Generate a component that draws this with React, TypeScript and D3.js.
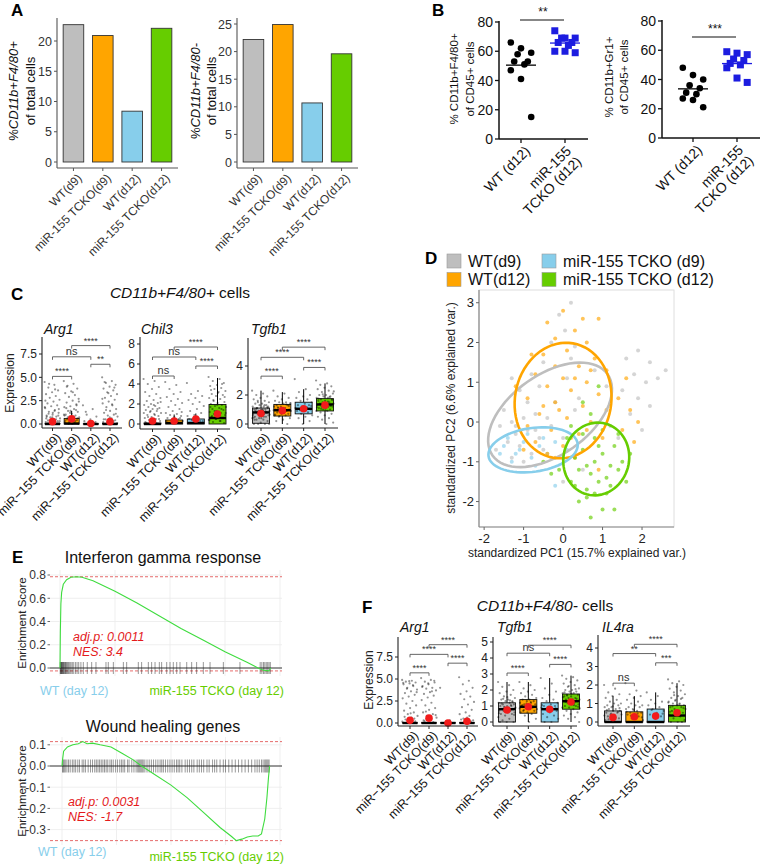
import React from "react";
import * as d3 from "d3";

const FONT = "'Liberation Sans', Arial, Helvetica, sans-serif";

// ---------- shared categories ----------
const groupLabels = ["WT(d9)", "miR-155 TCKO(d9)", "WT(d12)", "miR-155 TCKO(d12)"];
const groupLabelsBox = ["WT(d9)", "miR\u2212155 TCKO(d9)", "WT(d12)", "miR\u2212155 TCKO(d12)"];
const groupColors = ["#bebebe", "#ffa500", "#87ceeb", "#66cd00"];

// ---------- A ----------
const aF480PosValues = [22.7, 20.9, 8.4, 22.1];
const aF480NegValues = [22.2, 24.9, 10.7, 19.6];
const aF480PosTicks = [0, 5, 10, 15, 20];
const aF480NegTicks = [0, 5, 10, 15, 20, 25];

// ---------- B ----------
const bGroupLabels = [["WT (d12)"], ["miR-155", "TCKO (d12)"]];
const bF480WT = [66, 62, 59, 58, 53, 53, 51, 47, 41, 15];
const bF480KO = [74, 69, 69, 69, 66, 66, 64, 60, 60, 59];
const bGr1WT = [48, 43, 40, 36, 34, 31, 30, 27, 26, 21];
const bGr1KO = [59, 58, 57, 54, 53, 51, 50, 48, 41, 38];
const bTicks = [0, 20, 40, 60, 80];

// ---------- C (CD11b+F4/80+) ----------
// stats: [q1, median, q3, whiskerLow, whiskerHigh]
const cArg1Stats = [[0, 0, 0.05, 0, 0.1], [0, 0.05, 0.6, 0, 1.4], [0, 0, 0.03, 0, 0.05], [0, 0, 0.08, 0, 0.2]];
const cArg1Means = [0.25, 0.55, 0.05, 0.25];
const cArg1Points = [
  [4.5, 4.2, 3.9, 3.6, 3.4, 3.2, 3.0, 2.8, 2.6, 2.4, 2.2, 2.0, 1.9, 1.7, 1.5, 1.3, 1.2, 1.0, 0.9, 0.8, 0.7, 0.6, 0.5, 0.4, 0.3, 0.3, 0.2, 0.2, 0.1, 0.1, 0, 0, 0, 0, 1.8, 1.4, 1.1, 0.9, 0.7, 0.6, 0.5, 0.4, 0.3, 0.2, 0.15, 0.1, 0.05, 2.5, 3.7, 4.3, 1.6, 1.2, 0.8],
  [4.6, 4.3, 4.1, 3.8, 3.5, 3.3, 3.1, 2.9, 2.7, 2.5, 2.3, 2.1, 1.9, 1.8, 1.6, 1.4, 1.3, 1.1, 1.0, 0.9, 0.8, 0.7, 0.6, 0.5, 0.4, 0.3, 0.2, 0.1, 0, 0, 0, 1.7, 1.5, 1.2, 1.0, 0.8, 0.7, 0.6, 0.5, 0.4, 0.3, 0.2, 2.4, 3.4, 4.0, 2.0, 1.4, 0.9],
  [2.0, 1.6, 1.0, 0.8, 0.5, 0.3, 0.1, 0, 0, 0, 1.3, 0.2],
  [5.0, 4.6, 4.4, 4.2, 4.0, 3.8, 3.6, 3.4, 3.2, 3.0, 2.8, 2.6, 2.4, 2.2, 2.0, 1.8, 1.6, 1.4, 1.2, 1.0, 0.9, 0.8, 0.6, 0.5, 0.4, 0.3, 0.2, 0.1, 0, 0, 0, 4.5, 3.9, 3.3, 2.7, 2.1, 1.5, 1.1, 0.7, 0.5, 0.3, 0.2, 0.1],
];
const cArg1Sig = [[0, 1, 5.1, "****"], [0, 2, 7.2, "ns"], [1, 3, 8.4, "****"], [2, 3, 6.4, "**"]];
const cArg1Ticks = [0, 2.5, 5, 7.5];

const cChil3Stats = [[0, 0, 0.1, 0, 0.25], [0, 0.1, 0.4, 0, 0.95], [0, 0.1, 0.5, 0, 1.05], [0, 0.6, 1.95, 0, 4.6]];
const cChil3Means = [0.3, 0.3, 0.5, 1.0];
const cChil3Points = [
  [4.5, 4.3, 4.0, 3.7, 3.5, 3.2, 3.0, 2.8, 2.6, 2.4, 2.3, 2.1, 2.0, 1.9, 1.8, 1.7, 1.6, 1.5, 1.4, 1.3, 1.2, 1.1, 1.0, 0.9, 0.8, 0.7, 0.6, 0.5, 0.4, 0.3, 0.2, 0.1, 1.5, 1.3, 1.1, 0.9, 0.7, 0.5, 0.3, 0.2, 0.1, 0.05, 2.2, 1.9],
  [4.2, 3.9, 3.5, 3.2, 3.0, 2.7, 2.5, 2.3, 2.1, 1.9, 1.7, 1.5, 1.3, 1.1, 1.0, 0.9, 0.8, 0.7, 0.6, 0.5, 0.4, 0.3, 0.2, 0.1, 0.6, 0.4, 0.3, 0.2, 0.1, 1.2],
  [4.1, 3.3, 3.0, 2.8, 2.6, 2.4, 2.2, 2.0, 1.8, 1.5, 1.3, 1.1, 0.9, 0.8, 0.6, 0.4, 0.3, 0.2, 0.5, 0.3],
  [4.7, 4.5, 4.3, 4.1, 3.9, 3.8, 3.6, 3.5, 3.3, 3.2, 3.0, 2.9, 2.8, 2.6, 2.5, 2.4, 2.2, 2.1, 2.0, 1.9, 1.8, 1.7, 1.6, 1.5, 1.4, 1.3, 1.2, 1.1, 1.0, 0.9, 0.8, 0.7, 0.6, 0.5, 0.4, 0.3, 0.2, 0.1, 1.9, 1.7, 1.5, 1.3, 1.1, 0.9, 0.8, 0.6, 0.5, 0.4, 0.3, 2.3, 2.7, 3.1, 3.4, 4.0],
];
const cChil3Sig = [[0, 1, 4.8, "ns"], [0, 2, 6.7, "ns"], [1, 3, 7.7, "****"], [2, 3, 5.8, "****"]];
const cChil3Ticks = [0, 2, 4, 6, 8];

const cTgfb1Stats = [[0.05, 0.8, 1.1, 0, 2.3], [0.55, 0.95, 1.35, 0, 2.2], [0.7, 1.05, 1.5, 0, 2.4], [0.9, 1.35, 1.75, 0, 2.8]];
const cTgfb1Means = [0.72, 0.92, 1.05, 1.3];
const cTgfb1Points = [
  [2.3, 2.1, 2.0, 1.9, 1.8, 1.7, 1.6, 1.5, 1.5, 1.4, 1.4, 1.3, 1.3, 1.2, 1.2, 1.1, 1.1, 1.0, 1.0, 1.0, 0.9, 0.9, 0.9, 0.8, 0.8, 0.8, 0.7, 0.7, 0.7, 0.6, 0.6, 0.5, 0.5, 0.4, 0.4, 0.3, 0.3, 0.2, 0.1, 0, 0, 0, 0, 1.0, 0.9, 0.8, 0.7, 0.6, 0.5, 1.1, 1.2, 0.4, 0.3, 0.85, 0.75, 0.65, 0.95, 1.05, 1.15, 0.55, 0.45, 1.3, 1.6],
  [2.3, 2.1, 1.9, 1.8, 1.7, 1.6, 1.5, 1.5, 1.4, 1.4, 1.3, 1.3, 1.2, 1.2, 1.1, 1.1, 1.0, 1.0, 1.0, 0.9, 0.9, 0.9, 0.8, 0.8, 0.7, 0.7, 0.6, 0.6, 0.5, 0.4, 0.3, 0.2, 0, 1.05, 0.95, 0.85, 1.15, 1.25, 0.75, 0.65, 1.35, 0.55, 1.45],
  [3.1, 2.4, 2.2, 2.0, 1.9, 1.8, 1.7, 1.6, 1.5, 1.4, 1.3, 1.3, 1.2, 1.1, 1.1, 1.0, 1.0, 0.9, 0.9, 0.8, 0.7, 0.6, 0.5, 0.4, 0.2, 0, 1.05, 1.15, 0.95, 1.25],
  [3.0, 2.8, 2.7, 2.6, 2.5, 2.4, 2.3, 2.2, 2.1, 2.0, 2.0, 1.9, 1.9, 1.8, 1.8, 1.7, 1.7, 1.6, 1.6, 1.5, 1.5, 1.4, 1.4, 1.4, 1.3, 1.3, 1.3, 1.2, 1.2, 1.2, 1.1, 1.1, 1.0, 1.0, 0.9, 0.9, 0.8, 0.7, 0.6, 0.5, 0.4, 0.3, 0.1, 0, 1.35, 1.25, 1.45, 1.15, 1.55, 1.05, 1.65, 0.95, 1.75, 1.85, 2.05, 2.25],
];
const cTgfb1Sig = [[0, 1, 3.3, "****"], [0, 2, 4.6, "****"], [1, 3, 5.3, "****"], [2, 3, 3.9, "****"]];
const cTgfb1Ticks = [0, 2, 4];

// ---------- D (PCA) ----------
const dWTd9 = [[0.2, 3.0], [-0.1, 2.7], [0.05, 2.3], [-0.3, 2.0], [0.3, 1.9], [0.2, 1.6], [-0.5, 1.5], [-0.8, 1.2], [-1.3, 1.1], [-1.1, 0.8], [-0.6, 0.9], [-0.9, 0.5], [-1.5, 0.3], [-1.3, 0.0], [-1.6, -0.1], [-1.2, -0.3], [-0.9, -0.2], [-1.4, -0.5], [-1.1, -0.6], [-0.8, -0.8], [-1.3, -0.9], [-1.0, -1.0], [-0.5, -0.7], [-0.6, -0.4], [-0.3, -0.1], [-0.7, 0.2], [-0.2, 0.5], [0.1, 1.1], [0.4, 0.6], [0.8, 1.3], [1.6, 1.6], [1.9, 1.8], [2.2, 1.5], [1.8, 1.2], [2.1, 1.0], [2.4, 1.1], [2.6, 1.3], [1.5, 0.8], [1.9, 0.6], [2.2, 0.4], [1.7, 0.2], [2.0, -0.2], [1.4, -0.4], [1.2, -0.1], [0.5, -1.2], [0.0, -1.5], [-0.3, -0.9], [-1.7, -0.7], [-1.0, 0.1], [-0.4, 0.1], [0.0, -0.4], [-0.7, -0.2], [-1.2, -0.1], [0.3, 0.3], [1.1, 0.9]];
const dWTd12 = [[0.0, 2.8], [-0.4, 2.5], [0.5, 2.6], [0.9, 2.6], [0.3, 2.3], [-0.2, 2.1], [0.6, 2.0], [0.1, 1.8], [-0.5, 1.7], [0.8, 1.6], [-0.2, 1.4], [0.4, 1.4], [1.1, 1.3], [-0.7, 1.2], [0.0, 1.1], [0.6, 1.0], [-0.4, 0.9], [0.2, 0.8], [0.9, 0.7], [-0.9, 0.6], [-0.2, 0.5], [0.5, 0.4], [1.1, 0.3], [-0.6, 0.2], [0.1, 0.1], [0.7, 0.0], [-0.9, -0.1], [-0.3, -0.2], [0.4, -0.3], [1.0, -0.4], [-0.7, -0.5], [0.0, -0.6], [-0.4, -0.8], [0.3, -0.9], [-1.0, -0.7], [0.6, -0.2], [-0.1, 0.3], [0.3, 1.1], [-0.5, 0.4], [1.5, -0.2], [1.7, 0.3], [1.9, 0.0], [1.4, 0.6], [1.8, -0.5], [-1.2, 0.9], [-0.8, 1.7], [0.7, 1.3], [0.2, -0.4], [-0.2, -0.9], [0.9, -1.2], [1.6, 1.1]];
const dKOd9 = [[-1.5, -0.6], [-1.2, -0.8], [-1.0, -0.5], [-0.8, -0.9], [-0.6, -0.6], [-0.4, -0.8], [-1.3, -1.0], [-0.9, -0.3], [-0.2, -0.5], [-1.6, -0.8], [-0.7, -1.1], [-1.1, -0.7], [0.0, -0.9], [-0.5, -0.4], [-0.2, -1.6], [0.1, -0.7], [-1.4, -0.4]];
const dKOd12 = [[0.8, -1.0], [0.5, -0.7], [1.0, -0.8], [0.7, -1.3], [1.2, -1.1], [0.4, -1.2], [0.9, -1.5], [0.6, -1.7], [1.1, -1.4], [0.3, -0.9], [1.3, -0.6], [0.2, -1.5], [1.4, -1.2], [0.8, -0.4], [0.5, -0.3], [1.0, -0.2], [0.6, -1.9], [0.4, -2.0], [1.0, -2.2], [1.3, -2.2], [0.7, -2.4], [1.5, -1.0], [1.7, -0.8], [0.1, -0.4], [-0.1, -1.2], [0.9, -0.6], [1.1, -1.8], [0.3, -1.6], [0.7, 0.2], [0.5, 0.5], [0.9, 0.9], [1.4, -0.3], [0.2, -0.1], [0.6, -1.1], [1.2, -1.6], [-0.3, -1.3], [-0.5, -1.0], [0.8, -1.8], [1.6, -1.5]];
// ellipses: [cx, cy, semi-major, semi-minor, angle deg]
const dEllipses = [[-0.33, 0.18, 1.78, 1.01, 35], [0.0, 0.54, 1.46, 1.22, 80], [-0.76, -0.7, 1.14, 0.55, 8], [0.84, -0.93, 0.92, 0.83, 75]];
const dLegend = ["WT(d9)", "miR-155 TCKO (d9)", "WT(d12)", "miR-155 TCKO (d12)"];
const dXTicks = [-2, -1, 0, 1, 2];
const dYTicks = [-2, -1, 0, 1, 2, 3];

// ---------- E (GSEA) ----------
const eIfnCurve = [[0, 0], [3, 0.3], [8, 0.55], [15, 0.65], [30, 0.72], [60, 0.76], [100, 0.78], [150, 0.785], [200, 0.78], [300, 0.75], [500, 0.66], [700, 0.56], [900, 0.45], [1100, 0.34], [1300, 0.24], [1500, 0.14], [1700, 0.05], [1800, 0.0], [1850, -0.02], [1900, -0.025], [1915, 0]];
const eIfnHits = [2, 6, 10, 14, 18, 22, 27, 32, 38, 44, 50, 57, 64, 72, 80, 90, 100, 112, 125, 140, 155, 170, 190, 212, 248, 288, 327, 418, 439, 485, 576, 606, 712, 742, 803, 833, 864, 903, 924, 970, 1000, 1030, 1061, 1091, 1152, 1197, 1242, 1303, 1364, 1485, 1636, 1820, 1835, 1850, 1862, 1875, 1888, 1900, 1912];
const eIfnTicks = [0, 0.2, 0.4, 0.6, 0.8];
const eWoundCurve = [[0, 0], [5, 0.03], [15, 0.07], [50, 0.09], [100, 0.1], [150, 0.105], [190, 0.115], [230, 0.105], [280, 0.108], [350, 0.1], [450, 0.09], [550, 0.06], [650, 0.03], [730, 0.0], [850, -0.04], [1000, -0.09], [1150, -0.15], [1300, -0.22], [1450, -0.29], [1550, -0.33], [1600, -0.352], [1650, -0.345], [1700, -0.335], [1750, -0.33], [1800, -0.33], [1830, -0.32], [1860, -0.25], [1880, -0.15], [1895, -0.05], [1905, 0]];
const eWoundHits = [5, 12, 20, 30, 45, 60, 75, 95, 110, 125, 145, 160, 185, 200, 215, 240, 262, 280, 300, 315, 330, 345, 360, 375, 390, 405, 420, 440, 455, 470, 490, 510, 530, 545, 560, 575, 600, 615, 640, 660, 680, 695, 705, 715, 725, 735, 745, 760, 780, 800, 820, 840, 860, 880, 900, 915, 930, 950, 970, 990, 1010, 1030, 1050, 1065, 1080, 1100, 1130, 1150, 1170, 1190, 1210, 1240, 1260, 1280, 1300, 1330, 1350, 1380, 1400, 1420, 1450, 1480, 1500, 1530, 1560, 1590, 1620, 1650, 1680, 1710, 1740, 1770, 1790, 1810, 1830, 1845, 1860, 1870, 1880, 1890, 1900];
const eWoundTicks = [-0.3, -0.2, -0.1, 0, 0.1];
const eRankGrid = [0, 500, 1000, 1500, 2000];

// ---------- F (CD11b+F4/80-) ----------
const fArg1Stats = [[0, 0, 0.03, 0, 0.05], [0, 0, 0.03, 0, 0.05], [0, 0, 0.03, 0, 0.05], [0, 0, 0.03, 0, 0.05]];
const fArg1Means = [0.3, 0.55, 0.0, 0.2];
const fArg1Points = [
  [4.9, 4.8, 4.7, 4.6, 4.5, 4.4, 4.2, 4.0, 3.8, 3.6, 3.4, 3.2, 3.0, 2.8, 2.5, 2.2, 2.0, 1.7, 1.4, 1.2, 1.0, 0.8, 0.6, 0.4, 0.2, 4.75, 4.55, 4.3, 3.9, 3.5, 1.1, 0.7, 0.5, 0.3, 0.15, 0.1],
  [5.1, 4.9, 4.7, 4.6, 4.4, 4.2, 4.0, 3.9, 3.7, 3.5, 3.3, 3.1, 2.9, 2.6, 2.3, 2.0, 1.7, 1.5, 1.2, 1.0, 0.8, 0.6, 0.4, 0.2, 4.8, 4.5, 4.1, 3.6, 1.3, 0.9, 0.5, 0.3, 0.1],
  [4.0, 0.3],
  [5.2, 4.8, 4.4, 4.0, 3.6, 3.3, 3.0, 2.7, 2.4, 2.1, 1.8, 1.5, 1.2, 1.0, 0.8, 0.5, 0.3, 0.6, 0.4, 0.2, 0.1],
];
const fArg1Sig = [[0, 1, 5.7, "****"], [0, 2, 7.8, "****"], [1, 3, 8.9, "****"], [2, 3, 6.8, "****"]];
const fArg1Ticks = [0, 2.5, 5, 7.5];

const fTgfb1Stats = [[0, 0.8, 1.2, 0, 2.5], [0.55, 0.95, 1.4, 0, 2.5], [0, 0.8, 1.2, 0, 2.75], [0.8, 1.3, 1.75, 0, 2.9]];
const fTgfb1Means = [0.75, 0.95, 0.8, 1.25];
const fTgfb1Points = [
  [2.5, 2.3, 2.2, 2.0, 1.9, 1.8, 1.7, 1.6, 1.5, 1.4, 1.4, 1.3, 1.3, 1.2, 1.2, 1.1, 1.1, 1.0, 1.0, 1.0, 0.9, 0.9, 0.9, 0.8, 0.8, 0.8, 0.7, 0.7, 0.7, 0.6, 0.6, 0.5, 0.5, 0.4, 0.3, 0.2, 0.1, 0, 0, 0, 1.05, 0.95, 0.85, 0.75, 1.15, 1.25, 0.65, 0.55, 1.35, 1.45, 0.45, 1.55],
  [2.5, 2.3, 2.1, 2.0, 1.9, 1.8, 1.7, 1.6, 1.5, 1.4, 1.4, 1.3, 1.3, 1.2, 1.2, 1.1, 1.1, 1.0, 1.0, 0.9, 0.9, 0.8, 0.8, 0.7, 0.7, 0.6, 0.6, 0.5, 0.4, 0.2, 0, 1.05, 0.95, 1.15, 0.85, 1.25, 0.75],
  [2.75, 2.4, 2.1, 1.9, 1.7, 1.5, 1.4, 1.3, 1.2, 1.1, 1.0, 1.0, 0.9, 0.9, 0.8, 0.8, 0.7, 0.6, 0.5, 0.4, 0.3, 0.2, 0, 0, 0.85, 0.95, 1.05],
  [2.9, 2.8, 2.7, 2.6, 2.5, 2.4, 2.3, 2.2, 2.1, 2.0, 2.0, 1.9, 1.9, 1.8, 1.8, 1.7, 1.7, 1.6, 1.6, 1.5, 1.5, 1.4, 1.4, 1.4, 1.3, 1.3, 1.3, 1.2, 1.2, 1.1, 1.1, 1.0, 1.0, 0.9, 0.9, 0.8, 0.7, 0.6, 0.5, 0.4, 0.3, 0.2, 0, 1.35, 1.25, 1.45, 1.15, 1.55, 1.05, 1.65, 0.95, 1.75, 1.85, 2.05, 2.25, 0.85],
];
const fTgfb1Sig = [[0, 1, 3.06, "****"], [0, 2, 4.3, "ns"], [1, 3, 4.8, "****"], [2, 3, 3.6, "****"]];
const fTgfb1Ticks = [0, 1, 2, 3, 4, 5];

const fIl4raStats = [[0, 0, 0.6, 0, 1.4], [0, 0, 0.55, 0, 1.4], [0, 0, 0.7, 0, 1.6], [0, 0.35, 0.9, 0, 2.1]];
const fIl4raMeans = [0.25, 0.28, 0.32, 0.5];
const fIl4raPoints = [
  [2.0, 1.8, 1.6, 1.5, 1.4, 1.3, 1.2, 1.1, 1.0, 1.0, 0.9, 0.9, 0.8, 0.8, 0.7, 0.7, 0.6, 0.6, 0.5, 0.5, 0.4, 0.4, 0.3, 0.3, 0.2, 0.2, 0.1, 0, 0, 0, 0, 0.65, 0.55, 0.45, 0.35, 0.25, 0.15, 0.75, 0.85],
  [2.1, 1.7, 1.5, 1.4, 1.3, 1.2, 1.1, 1.0, 0.9, 0.9, 0.8, 0.8, 0.7, 0.7, 0.6, 0.5, 0.5, 0.4, 0.4, 0.3, 0.2, 0.1, 0, 0, 0, 0.65, 0.55, 0.45, 0.35, 0.25],
  [1.6, 1.4, 1.2, 1.1, 1.0, 0.9, 0.8, 0.7, 0.6, 0.5, 0.4, 0.3, 0.2, 0, 0, 0.65, 0.45],
  [2.3, 2.2, 2.1, 2.0, 1.9, 1.8, 1.7, 1.6, 1.5, 1.4, 1.3, 1.3, 1.2, 1.1, 1.0, 1.0, 0.9, 0.9, 0.8, 0.8, 0.7, 0.7, 0.6, 0.6, 0.5, 0.5, 0.4, 0.3, 0.2, 0.1, 0, 0, 0, 1.15, 1.05, 0.95, 0.85, 0.75, 0.65, 0.55, 1.25, 1.45],
];
const fIl4raSig = [[0, 1, 2.1, "ns"], [0, 2, 3.7, "**"], [1, 3, 4.2, "****"], [2, 3, 3.2, "***"]];
const fIl4raTicks = [0, 1, 2, 3, 4];

// ================= helpers =================
const RotLabel = ({ x, y, lines, size, fill = "#222", lh = "1.15em" }) => (
  <text transform={`translate(${x},${y}) rotate(-45)`} textAnchor="end" fontSize={size} fill={fill}>
    {lines.map((l, i) => (
      <tspan key={i} x={0} dy={i === 0 ? "0.71em" : lh}>{l}</tspan>
    ))}
  </text>
);

const VText = ({ x, y, size, children, fill = "#111" }) => (
  <text transform={`translate(${x},${y}) rotate(-90)`} textAnchor="middle" fontSize={size} fill={fill}>
    {children}
  </text>
);

const PanelLetter = ({ x, y, l }) => (
  <text x={x} y={y} fontSize={17} fontWeight="bold" fill="#000">{l}</text>
);

function BarChart({ values, ticks, axisX, axisRight, topTickY, sign, t1x, t2x }) {
  const zeroY = 162, axisY = 168, axisTop = 18;
  const y = d3.scaleLinear().domain([0, ticks[ticks.length - 1]]).range([zeroY, topTickY]);
  const x = d3.scaleBand().domain(groupLabels).range([axisX, axisRight]).paddingInner(0.3).paddingOuter(0.21);
  return (
    <g>
      {values.map((v, i) => (
        <rect key={i} x={x(groupLabels[i])} y={y(v)} width={x.bandwidth()} height={y(0) - y(v)}
          fill={groupColors[i]} stroke="#333" strokeWidth={0.9} />
      ))}
      <line x1={axisX} x2={axisX} y1={axisTop} y2={axisY} stroke="#555" strokeWidth={1.1} />
      <line x1={axisX} x2={axisRight} y1={axisY} y2={axisY} stroke="#555" strokeWidth={1.1} />
      {ticks.map((t) => (
        <g key={t}>
          <line x1={axisX - 3} x2={axisX} y1={y(t)} y2={y(t)} stroke="#555" />
          <text x={axisX - 5} y={y(t)} dy="0.36em" textAnchor="end" fontSize={12.5} fill="#333">{t}</text>
        </g>
      ))}
      {groupLabels.map((g) => {
        const cx = x(g) + x.bandwidth() / 2;
        return (
          <g key={g}>
            <line x1={cx} x2={cx} y1={axisY} y2={axisY + 3} stroke="#555" />
            <RotLabel x={cx + 3} y={axisY + 5} lines={[g]} size={12} fill="#333" />
          </g>
        );
      })}
      <VText x={t1x} y={91} size={13}>
        <tspan>%</tspan><tspan fontStyle="italic">{`CD11b+F4/80${sign}`}</tspan>
      </VText>
      <VText x={t2x} y={91} size={13}>of total cells</VText>
    </g>
  );
}

function DotPlot({ wt, ko, axisX, axisRight, zeroY, topY, axisTop, gx, titles, t1x, t2x, titleY, sigY, sigLabel }) {
  const y = d3.scaleLinear().domain([0, 80]).range([zeroY, topY]);
  const jit = (i) => (((i * 3) % 7) - 3) * 3.4;
  const mWT = d3.mean(wt), mKO = d3.mean(ko);
  return (
    <g>
      <line x1={axisX} x2={axisX} y1={axisTop} y2={zeroY} stroke="#111" strokeWidth={1.5} />
      <line x1={axisX} x2={axisRight} y1={zeroY} y2={zeroY} stroke="#111" strokeWidth={1.5} />
      {bTicks.map((t) => (
        <g key={t}>
          <line x1={axisX - 4} x2={axisX} y1={y(t)} y2={y(t)} stroke="#111" strokeWidth={1.3} />
          <text x={axisX - 6} y={y(t)} dy="0.36em" textAnchor="end" fontSize={14} fill="#111">{t}</text>
        </g>
      ))}
      {gx.map((g, i) => (
        <g key={i}>
          <line x1={g} x2={g} y1={zeroY} y2={zeroY + 4} stroke="#111" strokeWidth={1.3} />
          <RotLabel x={g + (i === 0 ? 3 : 0)} y={zeroY + 6} lines={bGroupLabels[i]} size={14} fill="#111" lh="1.05em" />
        </g>
      ))}
      {wt.map((v, i) => <circle key={i} cx={gx[0] + jit(i)} cy={y(v)} r={3.3} fill="#000" />)}
      {ko.map((v, i) => <rect key={i} x={gx[1] + jit(i) - 3.5} y={y(v) - 3.5} width={7} height={7} fill="#1c1ce0" />)}
      <line x1={gx[0] - 15} x2={gx[0] + 15} y1={y(mWT)} y2={y(mWT)} stroke="#000" strokeWidth={1.3} />
      <line x1={gx[1] - 15} x2={gx[1] + 15} y1={y(mKO)} y2={y(mKO)} stroke="#1c1ce0" strokeWidth={1.3} />
      <line x1={gx[0] - 1} x2={gx[1] - 1} y1={sigY} y2={sigY} stroke="#111" strokeWidth={1.1} />
      <text x={(gx[0] + gx[1]) / 2} y={sigY - 4} textAnchor="middle" fontSize={12} fill="#111">{sigLabel}</text>
      <VText x={t1x} y={titleY} size={11.5}>{titles[0]}</VText>
      <VText x={t2x} y={titleY} size={11.5}>{titles[1]}</VText>
    </g>
  );
}

function BoxPanel({ stats, means, points, sig, ticks, fmt, axisX, axisRight, axisTop, axisY, zeroY, topTickY, firstX, lastX, boxW, title, titleX, titleY }) {
  const y = d3.scaleLinear().domain([0, ticks[ticks.length - 1]]).range([zeroY, topTickY]);
  const x = d3.scalePoint().domain(groupLabelsBox).range([firstX, lastX]);
  const tip = 3;
  return (
    <g>
      <text x={titleX} y={titleY} fontSize={14} fontStyle="italic" fill="#111">{title}</text>
      {stats.map((s, i) => {
        const cx = x(groupLabelsBox[i]);
        const [q1, med, q3, lo, hi] = s;
        return (
          <g key={"b" + i}>
            <line x1={cx} x2={cx} y1={y(q3)} y2={y(hi)} stroke="#000" strokeWidth={1} />
            <line x1={cx} x2={cx} y1={y(q1)} y2={y(lo)} stroke="#000" strokeWidth={1} />
            <rect x={cx - boxW / 2} y={y(q3)} width={boxW} height={Math.max(0, y(q1) - y(q3))}
              fill={groupColors[i]} stroke="#111" strokeWidth={0.9} />
            <line x1={cx - boxW / 2} x2={cx + boxW / 2} y1={y(med)} y2={y(med)} stroke="#000" strokeWidth={2.4} />
          </g>
        );
      })}
      {points.map((pts, i) => {
        const cx = x(groupLabelsBox[i]);
        return pts.map((v, k) => (
          <circle key={"p" + i + "-" + k} cx={cx + (((k * 0.6180339) % 1) - 0.5) * boxW * 1.05} cy={y(v)} r={1.1}
            fill="#000" opacity={0.42} />
        ));
      })}
      {means.map((m, i) => (
        <circle key={"m" + i} cx={x(groupLabelsBox[i])} cy={y(m)} r={3.8} fill="#f21b1b" />
      ))}
      {sig.map(([a, b, v, lab], i) => {
        const xa = x(groupLabelsBox[a]), xb = x(groupLabelsBox[b]), yy = y(v);
        return (
          <g key={"s" + i}>
            <path d={`M${xa},${yy + tip}V${yy}H${xb}V${yy + tip}`} fill="none" stroke="#555" strokeWidth={0.9} />
            <text x={(xa + xb) / 2} y={yy - 2} textAnchor="middle" fontSize={lab === "ns" ? 11 : 9} fill="#333">{lab}</text>
          </g>
        );
      })}
      <line x1={axisX} x2={axisX} y1={axisTop} y2={axisY} stroke="#222" strokeWidth={1.1} />
      <line x1={axisX} x2={axisRight} y1={axisY} y2={axisY} stroke="#222" strokeWidth={1.1} />
      {ticks.map((t) => (
        <g key={"t" + t}>
          <line x1={axisX - 3} x2={axisX} y1={y(t)} y2={y(t)} stroke="#222" />
          <text x={axisX - 5} y={y(t)} dy="0.36em" textAnchor="end" fontSize={12} fill="#222">{fmt(t)}</text>
        </g>
      ))}
      {groupLabelsBox.map((g) => (
        <g key={"x" + g}>
          <line x1={x(g)} x2={x(g)} y1={axisY} y2={axisY + 3} stroke="#222" />
          <RotLabel x={x(g) + 3} y={axisY + 4} lines={[g]} size={12.5} fill="#111" />
        </g>
      ))}
    </g>
  );
}

function Pca() {
  const x = d3.scaleLinear().domain([-2.13, 2.81]).range([479, 674]);
  const y = d3.scaleLinear().domain([-2.64, 3.32]).range([527, 290]);
  const groups = [[dKOd9, 2], [dWTd9, 0], [dWTd12, 1], [dKOd12, 3]];
  const line = d3.line().x((d) => x(d[0])).y((d) => y(d[1])).curve(d3.curveLinearClosed);
  const ell = (e) => {
    const [cx, cy, a, b, ang] = e;
    const th = (ang * Math.PI) / 180;
    return d3.range(0, 72).map((k) => {
      const t = (k / 72) * 2 * Math.PI;
      const px = a * Math.cos(t), py = b * Math.sin(t);
      return [cx + px * Math.cos(th) - py * Math.sin(th), cy + px * Math.sin(th) + py * Math.cos(th)];
    });
  };
  const legendPos = [[447, 254], [542, 254], [447, 272.5], [542, 272.5]];
  const legendColorIdx = [0, 2, 1, 3];
  return (
    <g>
      {dLegend.map((l, i) => (
        <g key={l}>
          <rect x={legendPos[i][0]} y={legendPos[i][1]} width={14} height={14} fill={groupColors[legendColorIdx[i]]} stroke="#999" strokeWidth={0.6} />
          <text x={legendPos[i][0] + 21} y={legendPos[i][1] + 12.5} fontSize={16} fill="#111">{l}</text>
        </g>
      ))}
      <rect x={479} y={290} width={195} height={237} fill="#fff" stroke="#dedede" strokeWidth={1} />
      {groups.map(([pts, ci]) =>
        pts.map((p, k) => (
          <circle key={ci + "-" + k} cx={x(p[0])} cy={y(p[1])} r={2} fill={groupColors[ci]} opacity={0.65} />
        ))
      )}
      {dEllipses.map((e, i) => (
        <path key={"e" + i} d={line(ell(e))} fill="none" stroke={groupColors[i]} strokeWidth={2.6} />
      ))}
      <line x1={479} x2={479} y1={290} y2={527} stroke="#888" strokeWidth={1.2} />
      <line x1={479} x2={674} y1={527} y2={527} stroke="#888" strokeWidth={1.2} />
      {dXTicks.map((t) => (
        <g key={"x" + t}>
          <line x1={x(t)} x2={x(t)} y1={527} y2={530} stroke="#666" />
          <text x={x(t)} y={543} textAnchor="middle" fontSize={13} fill="#222">{String(t)}</text>
        </g>
      ))}
      {dYTicks.map((t) => (
        <g key={"y" + t}>
          <line x1={476} x2={479} y1={y(t)} y2={y(t)} stroke="#666" />
          <text x={474} y={y(t)} dy="0.36em" textAnchor="end" fontSize={13} fill="#222">{String(t)}</text>
        </g>
      ))}
      <text x={577} y={557} textAnchor="middle" fontSize={12} fill="#222">standardized PC1 (15.7% explained var.)</text>
      <VText x={455} y={408} size={12} fill="#222">standardized PC2 (6.6% explained var.)</VText>
    </g>
  );
}

function Gsea({ curve, hits, ticks, x0, zeroY, tickV, tickPx, panelTop, panelBottom, hitHalf, title, titleY, annY, pText, nText, wtY, koY, annX, wtX }) {
  const x = d3.scaleLinear().domain([0, 2000]).range([x0, 280]);
  const y = d3.scaleLinear().domain([0, tickV]).range([zeroY, tickPx]);
  const line = d3.line().x((d) => x(d[0])).y((d) => y(d[1]));
  const maxES = d3.max(curve, (d) => d[1]);
  const minES = d3.min(curve, (d) => d[1]);
  const L = 50, R = 282;
  return (
    <g>
      <text x={163} y={titleY} textAnchor="middle" fontSize={16} fill="#111">{title}</text>
      {eRankGrid.map((r) => (
        <line key={"g" + r} x1={x(r)} x2={x(r)} y1={panelTop} y2={panelBottom} stroke="#ebebeb" strokeWidth={0.8} />
      ))}
      {ticks.map((t) => (
        <line key={"h" + t} x1={L} x2={R} y1={y(t)} y2={y(t)} stroke="#ebebeb" strokeWidth={0.8} />
      ))}
      <line x1={L} x2={R} y1={y(maxES)} y2={y(maxES)} stroke="#e25a5a" strokeWidth={0.9} strokeDasharray="3,2" />
      <line x1={L} x2={R} y1={y(minES)} y2={y(minES)} stroke="#e25a5a" strokeWidth={0.9} strokeDasharray="3,2" />
      {hits.map((h, i) => (
        <line key={"k" + i} x1={x(h)} x2={x(h)} y1={zeroY - hitHalf} y2={zeroY + hitHalf} stroke="#000" strokeWidth={0.8} opacity={0.5} />
      ))}
      <line x1={L} x2={R} y1={y(0)} y2={y(0)} stroke="#222" strokeWidth={0.9} />
      <path d={line(curve)} fill="none" stroke="#3fdc3f" strokeWidth={1.1} />
      {ticks.map((t) => (
        <g key={"t" + t}>
          <line x1={47.5} x2={50} y1={y(t)} y2={y(t)} stroke="#444" strokeWidth={0.8} />
          <text x={46} y={y(t)} dy="0.36em" textAnchor="end" fontSize={12} fill="#333">{t.toFixed(1)}</text>
        </g>
      ))}
      <VText x={26} y={(panelTop + panelBottom) / 2} size={11.5} fill="#222">Enrichment Score</VText>
      <text x={annX} y={annY} fontSize={12.5} fontStyle="italic" fill="#e41a1c">{pText}</text>
      <text x={annX} y={annY + 15} fontSize={12.5} fontStyle="italic" fill="#e41a1c">{nText}</text>
      <text x={wtX} y={wtY} fontSize={12.5} fill="#87ceeb">WT (day 12)</text>
      <text x={284} y={koY} textAnchor="end" fontSize={12.5} fill="#66cd00">miR-155 TCKO (day 12)</text>
    </g>
  );
}

const f1 = (t) => t.toFixed(1);
const f0 = (t) => String(t);

export default function App() {
  return (
    <svg width={760} height={865} viewBox="0 0 760 865" style={{ position: "absolute", left: 0, top: 0, background: "#fff" }} fontFamily={FONT}>
      <rect width={760} height={865} fill="#fff" />
      {/* A */}
      <PanelLetter x={11} y={16} l="A" />
      <BarChart values={aF480PosValues} ticks={aF480PosTicks} axisX={57} axisRight={178} topTickY={41} sign="+" t1x={18} t2x={35} />
      <BarChart values={aF480NegValues} ticks={aF480NegTicks} axisX={237} axisRight={358} topTickY={24} sign="-" t1x={200} t2x={216} />
      {/* B */}
      <PanelLetter x={432} y={16} l="B" />
      <DotPlot wt={bF480WT} ko={bF480KO} axisX={499} axisRight={588} zeroY={139} topY={22} axisTop={21} gx={[521, 565]}
        titles={["% CD11b+F4/80+", "of CD45+ cells"]} t1x={458} t2x={474} titleY={79} sigY={20} sigLabel="**" />
      <DotPlot wt={bGr1WT} ko={bGr1KO} axisX={662} axisRight={760} zeroY={138} topY={21} axisTop={20} gx={[693, 737]}
        titles={["% CD11b+Gr1+", "of CD45+ cells"]} t1x={613} t2x={628} titleY={77} sigY={37} sigLabel="***" />
      {/* C */}
      <PanelLetter x={11} y={300} l="C" />
      <text x={180} y={298} textAnchor="middle" fontSize={15.5} fill="#111">
        <tspan fontStyle="italic">CD11b+F4/80+</tspan><tspan> cells</tspan>
      </text>
      <VText x={14} y={383} size={12} fill="#222">Expression</VText>
      <BoxPanel stats={cArg1Stats} means={cArg1Means} points={cArg1Points} sig={cArg1Sig} ticks={cArg1Ticks} fmt={f1}
        axisX={42} axisRight={122} axisTop={337} axisY={428} zeroY={424} topTickY={354} firstX={52.5} lastX={110} boxW={15}
        title="Arg1" titleX={44} titleY={334} />
      <BoxPanel stats={cChil3Stats} means={cChil3Means} points={cChil3Points} sig={cChil3Sig} ticks={cChil3Ticks} fmt={f0}
        axisX={140} axisRight={230} axisTop={337} axisY={429} zeroY={424} topTickY={344} firstX={152.5} lastX={217.5} boxW={17}
        title="Chil3" titleX={141} titleY={334} />
      <BoxPanel stats={cTgfb1Stats} means={cTgfb1Means} points={cTgfb1Points} sig={cTgfb1Sig} ticks={cTgfb1Ticks} fmt={f0}
        axisX={248} axisRight={338} axisTop={338} axisY={428} zeroY={424} topTickY={366} firstX={261} lastX={325} boxW={17}
        title="Tgfb1" titleX={251} titleY={334} />
      {/* D */}
      <PanelLetter x={425} y={264} l="D" />
      <Pca />
      {/* E */}
      <PanelLetter x={12} y={563} l="E" />
      <Gsea curve={eIfnCurve} hits={eIfnHits} ticks={eIfnTicks} x0={60} zeroY={668} tickV={0.8} tickPx={575}
        panelTop={570} panelBottom={676} hitHalf={6} title="Interferon gamma response" titleY={563}
        annX={73} annY={641} pText="adj.p: 0.0011" nText="NES: 3.4" wtX={40} wtY={695} koY={695} />
      <Gsea curve={eWoundCurve} hits={eWoundHits} ticks={eWoundTicks} x0={62} zeroY={766} tickV={0.1} tickPx={744.8}
        panelTop={737} panelBottom={845} hitHalf={6.5} title="Wound healing genes" titleY={732}
        annX={68} annY={806} pText="adj.p: 0.0031" nText="NES: -1.7" wtX={38} wtY={856} koY={861} />
      {/* F */}
      <PanelLetter x={362} y={613} l="F" />
      <text x={545} y={611} textAnchor="middle" fontSize={15.5} fill="#111">
        <tspan fontStyle="italic">CD11b+F4/80-</tspan><tspan> cells</tspan>
      </text>
      <VText x={373} y={680} size={12} fill="#222">Expression</VText>
      <BoxPanel stats={fArg1Stats} means={fArg1Means} points={fArg1Points} sig={fArg1Sig} ticks={fArg1Ticks} fmt={f1}
        axisX={398} axisRight={478} axisTop={637} axisY={726} zeroY={723} topTickY={657} firstX={410} lastX={467} boxW={15}
        title="Arg1" titleX={400} titleY={632} />
      <BoxPanel stats={fTgfb1Stats} means={fTgfb1Means} points={fTgfb1Points} sig={fTgfb1Sig} ticks={fTgfb1Ticks} fmt={f0}
        axisX={493} axisRight={577} axisTop={637} axisY={726} zeroY={722} topTickY={642} firstX={507} lastX={571} boxW={17}
        title="Tgfb1" titleX={497} titleY={632} />
      <BoxPanel stats={fIl4raStats} means={fIl4raMeans} points={fIl4raPoints} sig={fIl4raSig} ticks={fIl4raTicks} fmt={f0}
        axisX={598} axisRight={690} axisTop={635} axisY={726} zeroY={722} topTickY={648} firstX={613} lastX={677} boxW={17}
        title="IL4ra" titleX={602} titleY={632} />
    </svg>
  );
}
